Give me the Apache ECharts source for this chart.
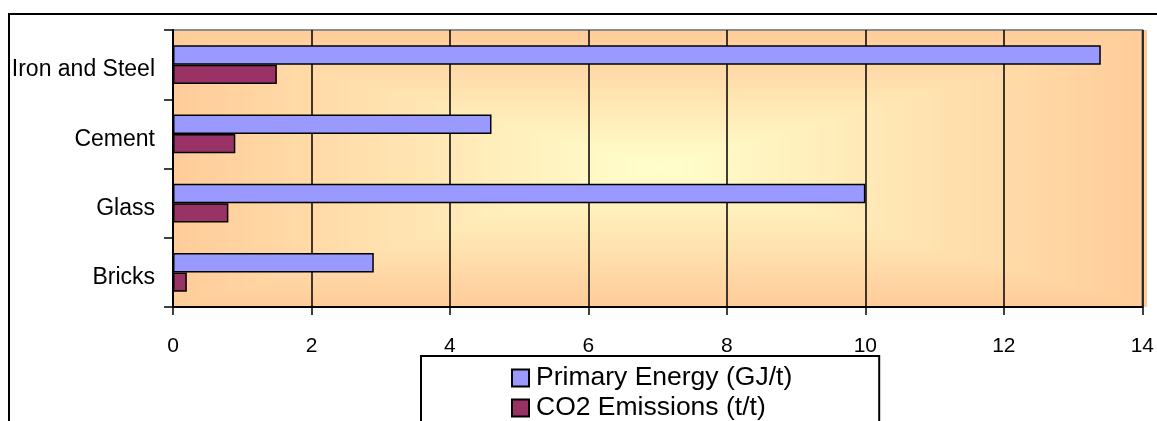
<!DOCTYPE html>
<html><head><meta charset="utf-8">
<script src="https://cdn.jsdelivr.net/npm/echarts@6/dist/echarts.min.js"></script>
<style>html,body{margin:0;padding:0;background:#fff}#c{width:1157px;height:421px}</style>
</head><body><div id="c"></div>
<script>
const categories = ['Iron and Steel', 'Cement', 'Glass', 'Bricks'];
const primaryEnergy = [13.4, 4.6, 10, 2.9];
const co2Emissions = [1.5, 0.9, 0.8, 0.2];
const seriesNames = ['Primary Energy (GJ/t)', 'CO2 Emissions (t/t)'];
const xMin = 0, xMax = 14, xInterval = 2;

const FONT = "'Liberation Sans', Arial, sans-serif";
const GRID = { left: 173, top: 30, width: 974, height: 277 };

function makeBg(w, h) {
  const c = document.createElement('canvas');
  c.width = w; c.height = h;
  const ctx = c.getContext('2d');
  const img = ctx.createImageData(w, h);
  const inner = [255, 255, 204], outer = [255, 204, 153];
  const hw = w / 2, hh = h / 2;
  for (let y = 0; y < h; y++) {
    for (let x = 0; x < w; x++) {
      const t = Math.min(1, Math.max(Math.abs(x + 0.5 - hw) / hw, Math.abs(y + 0.5 - hh) / hh));
      const i = (y * w + x) * 4;
      img.data[i] = inner[0] + (outer[0] - inner[0]) * t;
      img.data[i + 1] = inner[1] + (outer[1] - inner[1]) * t;
      img.data[i + 2] = inner[2] + (outer[2] - inner[2]) * t;
      img.data[i + 3] = 255;
    }
  }
  ctx.putImageData(img, 0, 0);
  return c;
}

const chart = echarts.init(document.getElementById('c'), null, { renderer: 'canvas' });
const option = {
  animation: false,
  backgroundColor: '#fff',
  textStyle: { fontFamily: FONT },
  graphic: [
    { type: 'rect', x: 0, y: 0, z: -20, silent: true,
      shape: { x: 9, y: 14, width: 1400, height: 700 },
      style: { fill: '#fff', stroke: '#000', lineWidth: 2 } },
    { type: 'image', x: GRID.left, y: GRID.top, z: -10, silent: true,
      style: { image: makeBg(GRID.width, GRID.height), x: 0, y: 0, width: GRID.width, height: GRID.height } }
  ],
  grid: {
    left: GRID.left, top: GRID.top, width: GRID.width, height: GRID.height,
    show: true, backgroundColor: 'transparent', borderColor: '#8c8c8c', borderWidth: 2
  },
  legend: {
    orient: 'vertical', left: 421, top: 356, height: 300,
    padding: [8, 87, 30, 90],
    backgroundColor: '#fff', borderColor: '#000', borderWidth: 2,
    itemWidth: 17, itemHeight: 17, itemGap: 2,
    icon: 'rect',
    textStyle: { fontSize: 26.5, fontFamily: FONT, color: '#000', lineHeight: 28, padding: [0, 0, 0, 2] },
    data: seriesNames
  },
  xAxis: {
    type: 'value', min: xMin, max: xMax, interval: xInterval, z: 1,
    axisLine: { show: true, lineStyle: { color: '#000', width: 2 } },
    axisTick: { show: true, length: 8, lineStyle: { color: '#000', width: 1.5 } },
    splitLine: { show: true, lineStyle: { color: '#000', width: 1.5 } },
    axisLabel: { fontSize: 21, color: '#000', margin: 29, fontFamily: FONT }
  },
  yAxis: {
    type: 'category', data: categories, inverse: true, z: 1,
    axisLine: { show: true, lineStyle: { color: '#000', width: 2 } },
    axisTick: { show: true, length: 9, lineStyle: { color: '#000', width: 1.5 } },
    splitLine: { show: false },
    axisLabel: { fontSize: 23, color: '#000', margin: 18, fontFamily: FONT, verticalAlign: 'top', lineHeight: 11 }
  },
  series: [
    { type: 'bar', name: seriesNames[0], data: primaryEnergy, barGap: '0%', barCategoryGap: '44%',
      itemStyle: { color: '#9999FF', borderColor: '#000', borderWidth: 1.5 } },
    { type: 'bar', name: seriesNames[1], data: co2Emissions, barGap: '0%', barCategoryGap: '44%',
      itemStyle: { color: '#993366', borderColor: '#000', borderWidth: 1.5 } }
  ]
};
chart.setOption(option);
</script>
</body></html>
